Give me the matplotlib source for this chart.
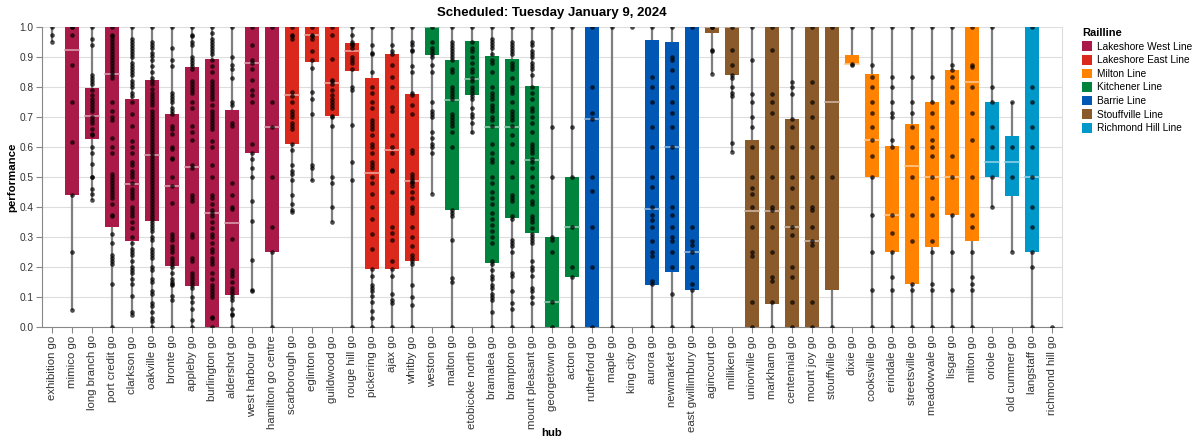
import numpy as np
import matplotlib
matplotlib.use("Agg")
import matplotlib.pyplot as plt
from matplotlib.patches import Patch
from matplotlib.colors import to_rgb

plt.rcParams['font.family'] = ['Liberation Sans', 'DejaVu Sans']

hubs = ["exhibition go", "mimico go", "long branch go", "port credit go", "clarkson go",
        "oakville go", "bronte go", "appleby go", "burlington go", "aldershot go",
        "west harbour go", "hamilton go centre", "scarborough go", "eglinton go",
        "guildwood go", "rouge hill go", "pickering go", "ajax go", "whitby go",
        "weston go", "malton go", "etobicoke north go", "bramalea go", "brampton go",
        "mount pleasant go", "georgetown go", "acton go", "rutherford go", "maple go",
        "king city go", "aurora go", "newmarket go", "east gwillimbury go", "agincourt go",
        "milliken go", "unionville go", "markham go", "centennial go", "mount joy go",
        "stouffville go", "dixie go", "cooksville go", "erindale go", "streetsville go",
        "meadowvale go", "lisgar go", "milton go", "oriole go", "old cummer go",
        "langstaff go", "richmond hill go"]

railline = (["Lakeshore West Line"] * 12 + ["Lakeshore East Line"] * 7 +
            ["Kitchener Line"] * 8 + ["Barrie Line"] * 6 +
            ["Stouffville Line"] * 7 + ["Milton Line"] * 7 +
            ["Richmond Hill Line"] * 4)

line_order = ["Lakeshore West Line", "Lakeshore East Line", "Milton Line",
              "Kitchener Line", "Barrie Line", "Stouffville Line", "Richmond Hill Line"]
line_colors = ["#AA1A48", "#DA291C", "#FF8200", "#00843D", "#0057B4", "#8B5A2B", "#0098C8"]

nan = np.nan
# box statistics
lo = [0.95, 0.056, 0.422, 0, 0.039, 0, 0, 0, 0, 0, 0.119, 0, 0.385, 0.488, 0.351, 0, 0, 0, 0,
      0.444, 0, 0.644, 0, 0, 0, 0, 0, 0, 0, nan, 0, 0, 0, 0.844, 0.583, 0, 0, 0, 0,
      0, 0.875, 0, 0, 0, 0, 0, 0, 0.4, 0.25, 0, nan]
q1 = [nan, 0.44, 0.627, 0.333, 0.287, 0.353, 0.203, 0.137, 0, 0.107, 0.579, 0.249, 0.611, 0.883,
      0.703, 0.852, 0.194, 0.194, 0.219, 0.908, 0.389, 0.774, 0.214, 0.363, 0.312, 0, 0.167, 0,
      nan, nan, 0.141, 0.183, 0.124, 0.98, 0.839, 0, 0.078, 0, 0, 0.124, 0.878, 0.5, 0.25,
      0.144, 0.267, 0.374, 0.287, 0.5, 0.438, 0.25, nan]
med = [nan, 0.924, 0.702, 0.844, 0.478, 0.574, 0.469, 0.534, 0.381, 0.347, 0.881, 0.667, 0.774,
       0.974, 0.812, 0.92, 0.513, 0.589, 0.487, 1.0, 0.758, 0.828, 0.667, 0.667, 0.556, 0.083,
       0.332, 0.692, nan, nan, 0.394, 0.60, 0.25, 1.0, 1.0, 0.386, 0.386, 0.333, 0.286, 0.75,
       0.878, 0.624, 0.374, 0.536, 0.50, 0.5, 0.817, 0.55, 0.55, 0.5, nan]
q3 = [nan, 1.0, 0.798, 1.0, 0.759, 0.824, 0.711, 0.867, 0.893, 0.724, 1.0, 1.0, 1.0, 1.0, 1.0,
      0.946, 0.829, 0.911, 0.778, 1.0, 0.891, 0.952, 0.902, 0.894, 0.804, 0.299, 0.499, 1.0,
      nan, nan, 0.958, 0.949, 1.0, 1.0, 1.0, 0.624, 1.0, 0.692, 1.0, 1.0, 0.906, 0.842, 0.604,
      0.678, 0.749, 0.856, 1.0, 0.749, 0.637, 1.0, nan]
hi = [1.0, 1.0, 1.0, 1.0, 1.0, 1.0, 1.0, 1.0, 1.0, 1.0, 1.0, 1.0, 1.0, 1.0, 1.0, 1.0, 1.0, 1.0,
      1.0, 1.0, 1.0, 1.0, 1.0, 1.0, 1.0, 1.0, 1.0, 1.0, 1.0, nan, 1.0, 1.0, 1.0, 1.0, 1.0, 1.0,
      1.0, 1.0, 1.0, 1.0, 1.0, 1.0, 1.0, 1.0, 1.0, 1.0, 1.0, 1.0, 0.749, 1.0, nan]

# individual performance values per hub (estimated from the dots)
points = [
    [1.0, 0.975, 0.95],
    [1.0, 1.0, 0.975, 0.875, 0.75, 0.617, 0.44, 0.25, 0.056],
    [1.0, 0.96, 0.94, 0.84, 0.83, 0.82, 0.81, 0.79, 0.775, 0.76, 0.75, 0.74, 0.73, 0.72, 0.70,
     0.69, 0.68, 0.66, 0.645, 0.64, 0.60, 0.58, 0.545, 0.50, 0.5, 0.46, 0.445, 0.425],
    [1.0, 0.975, 0.97, 0.96, 0.95, 0.94, 0.93, 0.92, 0.91, 0.90, 0.89, 0.88, 0.87, 0.86, 0.85,
     0.84, 0.83, 0.75, 0.72, 0.70, 0.69, 0.63, 0.60, 0.58, 0.51, 0.50, 0.49, 0.48, 0.47, 0.46,
     0.45, 0.44, 0.43, 0.41, 0.375, 0.37, 0.31, 0.28, 0.24, 0.23, 0.22, 0.21, 0.145, 0.0],
    [1.0, 0.96, 0.95, 0.94, 0.93, 0.92, 0.91, 0.90, 0.88, 0.87, 0.86, 0.85, 0.84, 0.82, 0.81,
     0.80, 0.78, 0.77, 0.75, 0.71, 0.67, 0.62, 0.60, 0.58, 0.55, 0.54, 0.52, 0.51, 0.50, 0.48,
     0.46, 0.45, 0.44, 0.43, 0.40, 0.39, 0.38, 0.37, 0.35, 0.33, 0.30, 0.28, 0.26, 0.25, 0.24,
     0.22, 0.20, 0.19, 0.18, 0.16, 0.145, 0.105, 0.05, 0.04],
    [1.0, 0.95, 0.94, 0.93, 0.915, 0.905, 0.89, 0.87, 0.85, 0.83, 0.82, 0.81, 0.795, 0.78, 0.77,
     0.76, 0.75, 0.74, 0.72, 0.71, 0.70, 0.69, 0.68, 0.67, 0.66, 0.65, 0.64, 0.63, 0.62, 0.61,
     0.60, 0.59, 0.58, 0.57, 0.56, 0.55, 0.54, 0.53, 0.52, 0.51, 0.50, 0.49, 0.48, 0.47, 0.46,
     0.45, 0.44, 0.43, 0.42, 0.41, 0.40, 0.39, 0.38, 0.37, 0.36, 0.35, 0.34, 0.33, 0.32, 0.30,
     0.29, 0.26, 0.25, 0.24, 0.23, 0.20, 0.19, 0.16, 0.15, 0.12, 0.11, 0.08, 0.07, 0.05, 0.03,
     0.02, 0.0],
    [1.0, 0.93, 0.89, 0.87, 0.78, 0.77, 0.76, 0.75, 0.73, 0.72, 0.71, 0.67, 0.66, 0.645, 0.60,
     0.595, 0.565, 0.56, 0.5, 0.47, 0.415, 0.31, 0.30, 0.29, 0.27, 0.26, 0.25, 0.23, 0.22, 0.21,
     0.2, 0.18, 0.16, 0.15, 0.145, 0.14, 0.105, 0.09, 0.0],
    [1.0, 0.975, 0.97, 0.95, 0.94, 0.90, 0.89, 0.88, 0.87, 0.86, 0.82, 0.81, 0.80, 0.79, 0.78,
     0.75, 0.73, 0.67, 0.65, 0.625, 0.54, 0.53, 0.44, 0.43, 0.42, 0.31, 0.30, 0.23, 0.22, 0.18,
     0.17, 0.16, 0.15, 0.14, 0.13, 0.1, 0.085, 0.06, 0.025, 0.0],
    [1.0, 0.98, 0.96, 0.95, 0.94, 0.93, 0.92, 0.91, 0.89, 0.87, 0.85, 0.82, 0.81, 0.80, 0.79,
     0.78, 0.77, 0.76, 0.74, 0.72, 0.71, 0.70, 0.69, 0.68, 0.67, 0.66, 0.62, 0.60, 0.54, 0.50,
     0.44, 0.43, 0.41, 0.39, 0.38, 0.37, 0.35, 0.33, 0.31, 0.30, 0.28, 0.26, 0.25, 0.23, 0.22,
     0.21, 0.18, 0.16, 0.14, 0.13, 0.12, 0.11, 0.1, 0.035, 0.03, 0.0],
    [1.0, 0.9, 0.875, 0.86, 0.83, 0.75, 0.74, 0.68, 0.67, 0.48, 0.44, 0.40, 0.395, 0.295, 0.19,
     0.18, 0.17, 0.15, 0.13, 0.12, 0.11, 0.10, 0.09, 0.06, 0.045, 0.04, 0.0],
    [1.0, 0.94, 0.89, 0.88, 0.86, 0.825, 0.79, 0.775, 0.75, 0.61, 0.58, 0.56, 0.53, 0.5, 0.42,
     0.355, 0.225, 0.125, 0.12],
    [1.0, 0.75, 0.667, 0.5, 0.333, 0.25, 0.0],
    [1.0, 0.975, 0.97, 0.96, 0.785, 0.77, 0.75, 0.72, 0.71, 0.70, 0.68, 0.67, 0.66, 0.61, 0.59,
     0.54, 0.52, 0.51, 0.49, 0.44, 0.41, 0.39, 0.385],
    [1.0, 0.975, 0.97, 0.96, 0.92, 0.89, 0.865, 0.785, 0.76, 0.71, 0.54, 0.53, 0.49],
    [1.0, 0.975, 0.895, 0.825, 0.82, 0.81, 0.79, 0.775, 0.76, 0.75, 0.74, 0.73, 0.705, 0.70,
     0.67, 0.5, 0.48, 0.40, 0.35],
    [1.0, 0.975, 0.95, 0.945, 0.94, 0.93, 0.90, 0.89, 0.88, 0.86, 0.80, 0.79, 0.675, 0.55, 0.49,
     0.0],
    [1.0, 0.94, 0.915, 0.91, 0.85, 0.80, 0.78, 0.75, 0.73, 0.69, 0.68, 0.67, 0.66, 0.64, 0.61,
     0.60, 0.58, 0.55, 0.54, 0.53, 0.50, 0.48, 0.445, 0.40, 0.36, 0.31, 0.26, 0.195, 0.17, 0.14,
     0.13, 0.12, 0.105, 0.085, 0.055, 0.03, 0.0],
    [1.0, 0.94, 0.92, 0.91, 0.875, 0.835, 0.80, 0.735, 0.72, 0.64, 0.60, 0.58, 0.525, 0.52, 0.45,
     0.335, 0.315, 0.29, 0.22, 0.195, 0.17, 0.11, 0.09, 0.08, 0.0],
    [1.0, 0.95, 0.94, 0.925, 0.92, 0.87, 0.85, 0.78, 0.775, 0.74, 0.71, 0.59, 0.58, 0.51, 0.50,
     0.49, 0.485, 0.48, 0.47, 0.45, 0.43, 0.40, 0.39, 0.38, 0.335, 0.30, 0.27, 0.24, 0.23, 0.22,
     0.21, 0.14, 0.10, 0.075, 0.0],
    [1.0, 0.95, 0.93, 0.92, 0.91, 0.9, 0.875, 0.85, 0.75, 0.72, 0.71, 0.70, 0.65, 0.63, 0.61,
     0.60, 0.58, 0.444],
    [1.0, 0.95, 0.94, 0.93, 0.92, 0.91, 0.90, 0.89, 0.86, 0.85, 0.80, 0.79, 0.78, 0.77, 0.76,
     0.71, 0.70, 0.69, 0.68, 0.67, 0.65, 0.6, 0.39, 0.38, 0.37, 0.29, 0.165, 0.15, 0.0],
    [1.0, 0.95, 0.93, 0.92, 0.9, 0.88, 0.86, 0.85, 0.83, 0.82, 0.80, 0.79, 0.78, 0.77, 0.76,
     0.73, 0.71, 0.70, 0.68, 0.65],
    [1.0, 0.96, 0.95, 0.94, 0.93, 0.91, 0.89, 0.88, 0.85, 0.80, 0.78, 0.77, 0.76, 0.74, 0.73,
     0.72, 0.70, 0.69, 0.67, 0.61, 0.58, 0.56, 0.55, 0.50, 0.48, 0.45, 0.43, 0.41, 0.38, 0.36,
     0.34, 0.32, 0.30, 0.28, 0.22, 0.21, 0.19, 0.17, 0.16, 0.14, 0.13, 0.11, 0.10, 0.09, 0.05,
     0.0],
    [1.0, 0.95, 0.94, 0.93, 0.92, 0.91, 0.88, 0.87, 0.86, 0.83, 0.80, 0.79, 0.78, 0.75, 0.72,
     0.71, 0.70, 0.69, 0.67, 0.64, 0.61, 0.55, 0.50, 0.44, 0.43, 0.42, 0.37, 0.36, 0.29, 0.28,
     0.27, 0.25, 0.18, 0.17, 0.12, 0.08, 0.06, 0.0],
    [1.0, 0.95, 0.94, 0.92, 0.91, 0.9, 0.88, 0.87, 0.86, 0.84, 0.80, 0.78, 0.76, 0.73, 0.72,
     0.70, 0.68, 0.65, 0.61, 0.60, 0.59, 0.58, 0.56, 0.55, 0.53, 0.50, 0.47, 0.45, 0.42, 0.41,
     0.37, 0.36, 0.35, 0.33, 0.31, 0.30, 0.29, 0.28, 0.22, 0.20, 0.19, 0.17, 0.13, 0.12, 0.10,
     0.08, 0.0],
    [1.0, 0.667, 0.5, 0.3, 0.29, 0.25, 0.083, 0.0],
    [1.0, 0.667, 0.5, 0.333, 0.2, 0.167, 0.0],
    [1.0, 0.8, 0.714, 0.692, 0.5, 0.455, 0.333, 0.2, 0.0],
    [1.0, 0.0],
    [1.0],
    [1.0, 0.833, 0.8, 0.75, 0.667, 0.6, 0.5, 0.467, 0.4, 0.375, 0.357, 0.333, 0.286, 0.25, 0.238,
     0.154, 0.143, 0.0],
    [1.0, 0.9, 0.89, 0.857, 0.8, 0.75, 0.714, 0.667, 0.6, 0.5, 0.4, 0.375, 0.333, 0.3, 0.286,
     0.25, 0.2, 0.111, 0.0],
    [1.0, 0.333, 0.286, 0.273, 0.25, 0.2, 0.143, 0.125, 0.0],
    [1.0, 1.0, 0.925, 0.92, 0.844],
    [1.0, 0.925, 0.875, 0.84, 0.83, 0.80, 0.78, 0.77, 0.615, 0.583],
    [1.0, 0.889, 0.778, 0.75, 0.7, 0.667, 0.6, 0.5, 0.462, 0.444, 0.4, 0.333, 0.25, 0.238,
     0.083, 0.0],
    [1.0, 0.923, 0.778, 0.75, 0.714, 0.6, 0.5, 0.4, 0.389, 0.333, 0.25, 0.167, 0.154, 0.083, 0.0],
    [1.0, 0.818, 0.8, 0.778, 0.692, 0.667, 0.6, 0.5, 0.462, 0.4, 0.333, 0.308, 0.2, 0.167,
     0.083, 0.0],
    [1.0, 0.818, 0.75, 0.7, 0.6, 0.5, 0.4, 0.389, 0.333, 0.286, 0.273, 0.083, 0.0],
    [1.0, 0.5, 0.0],
    [1.0, 0.878, 0.875],
    [1.0, 0.875, 0.833, 0.8, 0.75, 0.714, 0.667, 0.625, 0.571, 0.5, 0.375, 0.25, 0.125, 0.0],
    [1.0, 0.833, 0.8, 0.75, 0.714, 0.7, 0.625, 0.6, 0.375, 0.312, 0.25, 0.167, 0.125, 0.0],
    [1.0, 0.833, 0.75, 0.714, 0.667, 0.6, 0.5, 0.375, 0.286, 0.143, 0.125, 0.0],
    [1.0, 0.833, 0.75, 0.714, 0.667, 0.625, 0.6, 0.571, 0.5, 0.429, 0.375, 0.286, 0.25, 0.143,
     0.125, 0.0],
    [1.0, 0.875, 0.857, 0.833, 0.8, 0.75, 0.571, 0.5, 0.375, 0.25, 0.125, 0.0],
    [1.0, 0.875, 0.867, 0.8, 0.714, 0.625, 0.5, 0.375, 0.333, 0.25, 0.167, 0.143, 0.125, 0.0],
    [1.0, 0.8, 0.75, 0.667, 0.6, 0.5, 0.4],
    [0.75, 0.6, 0.5, 0.25],
    [1.0, 0.8, 0.75, 0.667, 0.6, 0.5, 0.4, 0.333, 0.25, 0.2, 0.0],
    [0.0],
]

color_of = dict(zip(line_order, line_colors))


def tint(c, amt=0.55):
    r, g, b = to_rgb(c)
    return (r + (1 - r) * amt, g + (1 - g) * amt, b + (1 - b) * amt)


fig = plt.figure(figsize=(11.94, 4.40), dpi=100)
ax = fig.add_axes([0.0352, 0.2568, 0.8542, 0.6818])

x = np.arange(len(hubs))
bw = 0.7

for i in x:
    c = color_of[railline[i]]
    if not np.isnan(lo[i]) and hi[i] > lo[i]:
        ax.plot([i, i], [lo[i], hi[i]], color="#7f7f7f", lw=1.6, zorder=2,
                solid_capstyle="butt")
    if not np.isnan(q1[i]):
        h = max(q3[i] - q1[i], 0.004)
        ax.bar(i, h, bottom=q1[i], width=bw, color=c, zorder=3, linewidth=0)
        ax.plot([i - bw / 2, i + bw / 2], [med[i], med[i]], color=tint(c), lw=1.2, zorder=4)
    ax.scatter(np.full(len(points[i]), i), points[i], s=11, color="black", alpha=0.7,
               linewidths=0, zorder=5)

ax.set_xlim(-0.5, len(hubs) - 0.5)
ax.set_ylim(0, 1.0)
yt = np.arange(0, 1.01, 0.1)
ax.set_yticks(yt)
ax.set_yticklabels([f"{v:.1f}" for v in yt], fontsize=7.3, color="#333333")
ax.set_xticks(x)
ax.set_xticklabels(hubs, rotation=90, fontsize=8.2, color="#333333")
ax.tick_params(axis="both", color="#888888", length=4, width=0.8, pad=2)
ax.yaxis.grid(True, color="#dddddd", lw=0.8)
ax.set_axisbelow(True)
for side in ["left", "bottom"]:
    ax.spines[side].set_color("#888888")
    ax.spines[side].set_linewidth(0.8)
ax.spines["top"].set_visible(False)
ax.spines["right"].set_color("#dddddd")

ax.set_ylabel("performance", fontsize=8.2, fontweight="bold")
ax.yaxis.set_label_coords(-0.024, 0.5)
ax.set_xlabel("hub", fontsize=8.2, fontweight="bold")
ax.xaxis.set_label_coords(0.5, -0.337)
ax.set_title("Scheduled: Tuesday January 9, 2024", fontsize=9.5, fontweight="bold", pad=8)

handles = [Patch(facecolor=c, edgecolor="none") for c in line_colors]
leg = fig.legend(handles, line_order, title="Railline", loc="upper left",
                 bbox_to_anchor=(0.903, 0.945), frameon=False, fontsize=7.3,
                 title_fontsize=8, handlelength=1.0, handleheight=1.1,
                 handletextpad=0.5, labelspacing=0.32, borderaxespad=0)
leg.get_title().set_fontweight("bold")
leg._legend_box.align = "left"

fig.savefig("out.png", dpi=100)
